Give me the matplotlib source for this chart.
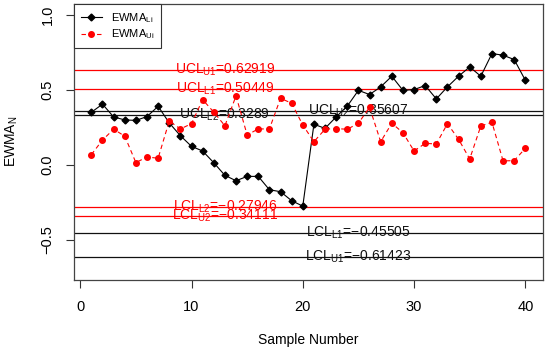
# Import libraries
import numpy as np
import matplotlib
matplotlib.use('Agg')
import matplotlib.pyplot as plt

# Fonts close to the R default (Arial-like)
plt.rcParams['font.family'] = ['Liberation Sans', 'DejaVu Sans']
plt.rcParams['mathtext.default'] = 'regular'

# Data --------------------------------
sample = list(range(1, 41))

ewma_li = [0.349, 0.403, 0.318, 0.298, 0.295, 0.320, 0.389, 0.278, 0.193, 0.122,
           0.091, 0.013, -0.071, -0.107, -0.078, -0.078, -0.167, -0.180, -0.240, -0.276,
           0.269, 0.242, 0.318, 0.390, 0.495, 0.467, 0.518, 0.589, 0.495, 0.500,
           0.527, 0.438, 0.518, 0.589, 0.651, 0.589, 0.740, 0.729, 0.700, 0.562]

ewma_ui = [0.067, 0.164, 0.236, 0.190, 0.014, 0.051, 0.043, 0.291, 0.238, 0.273,
           0.433, 0.350, 0.259, 0.458, 0.198, 0.238, 0.238, 0.442, 0.409, 0.264,
           0.153, 0.236, 0.240, 0.236, 0.276, 0.382, 0.153, 0.276, 0.213, 0.091,
           0.142, 0.138, 0.273, 0.169, 0.038, 0.258, 0.282, 0.025, 0.027, 0.109]

# Control limits: (label, value, colour, x position of the label)
limit_names = [r'UCL$_{U1}$', r'UCL$_{L1}$', r'UCL$_{L2}$', r'UCL$_{U2}$',
               r'LCL$_{L2}$', r'LCL$_{U2}$', r'LCL$_{L1}$', r'LCL$_{U1}$']
limit_values = [0.62919, 0.50449, 0.3289, 0.35607,
                -0.27946, -0.34111, -0.45505, -0.61423]
limit_colors = ['#ff0000', '#ff0000', '#111111', '#111111',
                '#ff0000', '#ff0000', '#111111', '#111111']
limit_text_x = [13, 13, 13, 25, 13, 13, 25, 25]

# Figure ------------
f = plt.figure(figsize=(5.5, 3.53), dpi=100)
ax = f.add_axes([74 / 550, 1 - 280 / 353, (542.7 - 74) / 550, (280 - 4.3) / 353])

# control limit lines and their labels
for name, val, col, tx in zip(limit_names, limit_values, limit_colors, limit_text_x):
    ax.axhline(val, color=col, lw=0.9, zorder=1)
    txt = name + '=' + ('%g' % abs(val) if val >= 0 else '\u2212%g' % abs(val))
    ax.text(tx, val, txt, color=col, fontsize=10, ha='center', va='center', zorder=3)

# the two EWMA series
ax.plot(sample, ewma_li, color='black', lw=0.8, marker='D', markersize=3.5,
        label=r'EWMA$_{Li}$', zorder=4)
ax.plot(sample, ewma_ui, color='#ff0000', lw=0.8, ls=(0, (4, 3)), marker='o',
        markersize=4, label=r'EWMA$_{Ui}$', zorder=4)

# axes limits and ticks (R style, 4% padding)
ax.set_xlim(-0.56, 41.56)
ax.set_ylim(-0.768, 1.068)
ax.set_xticks([0, 10, 20, 30, 40])
ax.set_yticks([-0.5, 0.0, 0.5, 1.0])
ax.set_yticklabels(['\u22120.5', '0.0', '0.5', '1.0'], rotation=90, va='center')
ax.tick_params(axis='both', direction='out', length=5.5, width=0.8,
               labelsize=10.5, colors='#333333', labelcolor='black')
ax.tick_params(axis='x', pad=9)
ax.tick_params(axis='y', pad=8.5)
for s in ax.spines.values():
    s.set_color('#444444')
    s.set_linewidth(0.9)

# axis titles
f.text(12 / 550, 1 - 141 / 353, r'EWMA$_N$', rotation=90, ha='center', va='center', fontsize=10)
f.text(308 / 550, 1 - 340 / 353, 'Sample Number', ha='center', va='center', fontsize=10)

# legend in the top left corner
leg = ax.legend(loc='upper left', borderaxespad=0, fontsize=8, fancybox=False,
                edgecolor='#333333', framealpha=1, handlelength=1.9,
                borderpad=0.6, labelspacing=0.25, handletextpad=0.8)
leg.get_frame().set_linewidth(0.8)

# Save figure
plt.savefig('out.png', dpi=100)
